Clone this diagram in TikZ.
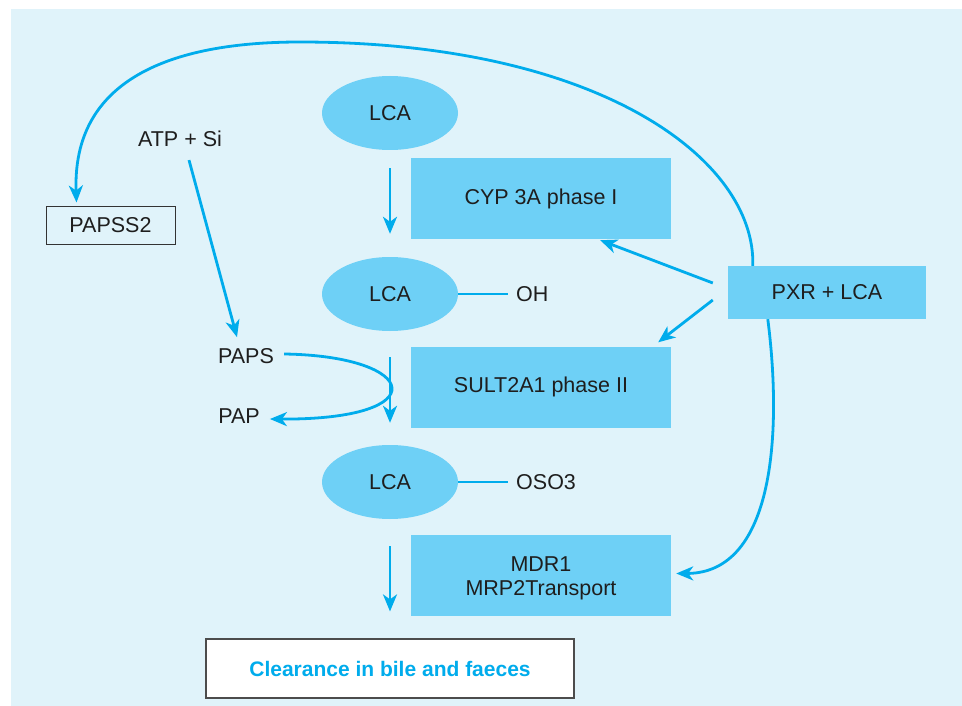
\documentclass[tikz,border=0pt]{standalone}
\usepackage{fontspec}
\setmainfont{Liberation Sans}
\usetikzlibrary{shapes.geometric,arrows.meta,calc}
\definecolor{bg}{RGB}{224,243,250}
\definecolor{boxc}{RGB}{110,208,246}
\definecolor{linec}{RGB}{0,172,236}
\definecolor{txt}{RGB}{30,30,30}
\begin{document}
\begin{tikzpicture}[x=1pt,y=-1pt,
  lbl/.style={font=\fontsize{21.5}{24}\selectfont, text=txt, inner sep=0pt},
  bluebox/.style={draw=none, fill=boxc, minimum width=260pt, minimum height=81pt, inner sep=0pt, lbl},
  lcaell/.style={ellipse, fill=boxc, minimum width=136pt, minimum height=74pt, inner sep=0pt, lbl},
  arr/.style={draw=linec, line width=2.8pt, -{Stealth[length=17pt,width=14pt,inset=5pt]}},
  bond/.style={draw=linec, line width=2.5pt}]
\useasboundingbox (0,0) rectangle (962,706);
\fill[white] (0,0) rectangle (962,706);
\fill[bg] (11,9) rectangle (962,706);

\node[lcaell] (lca1) at (390,113) {LCA};
\node[bluebox] (cyp) at (541,198.5) {CYP 3A phase I};
\node[lcaell] (lca2) at (390,294) {LCA};
\node[lbl, anchor=west] (oh) at (516,294.5) {OH};
\node[bluebox, minimum width=198pt, minimum height=53pt] (pxr) at (827,292.5) {PXR + LCA};
\node[bluebox] (sult) at (541,387) {SULT2A1 phase II};
\node[lcaell] (lca3) at (390,482) {LCA};
\node[lbl, anchor=west] (oso) at (516,482.5) {OSO3};
\node[bluebox, align=center] (mdr) at (541,575.5) {};
\node[lbl, align=center] (mdrtxt) at (541,578) {MDR1\\MRP2Transport};
\node[draw=black!70, line width=1.2pt, fill=white, minimum width=368pt, minimum height=59pt, inner sep=0pt, font=\bfseries\fontsize{21}{24}\selectfont, text=linec] (clr) at (390,668.5) {Clearance in bile and faeces};
\node[draw=black!80, line width=1pt, minimum width=129pt, minimum height=37pt, lbl] (papss) at (110.5,225.5) {PAPSS2};
\node[lbl] (atp) at (180,139) {ATP + Si};
\node[lbl] (paps) at (246,356) {PAPS};
\node[lbl] (pap) at (239,416) {PAP};

\draw[arr, shorten <=18pt, shorten >=23pt] (lca1) -- (lca2);
\draw[arr, shorten <=26pt, shorten >=22pt] (lca2) -- (lca3);
\draw[arr, shorten <=27pt, shorten >=27pt] (lca3) -- (clr);
\draw[bond, shorten >=8pt] (lca2.east) -- (lca2.east -| oh.west);
\draw[bond, shorten >=8pt] (lca3.east) -- (lca3.east -| oso.west);

\draw[arr] ($(pxr.west)+(-15,-9.5)$) -- ($(cyp.south east)+(-71,1)$);
\draw[arr] ($(pxr.west)+(-15,7.5)$) -- ($(sult.north east)+(-13,-4)$);

\draw[arr] ($(atp.south)+(9,13)$) -- ($(paps.north)+(-9,-11)$);
\draw[arr] ($(paps.east)+(10,-2)$) .. controls (420,356) and (437,420) .. ($(pap.east)+(10,3)$);

\draw[arr] ($(pxr.north west)+(25,0)$) .. controls (756,160) and (600,42) .. (300,42)
  .. controls (170,42) and (72,80) .. ($(papss.north west)+(31,-4)$);
\draw[arr] ($(pxr.south west)+(40,0)$) .. controls (782,430) and (775,573) .. ($(mdr.east)+(5,-2)$);
\end{tikzpicture}
\end{document}
